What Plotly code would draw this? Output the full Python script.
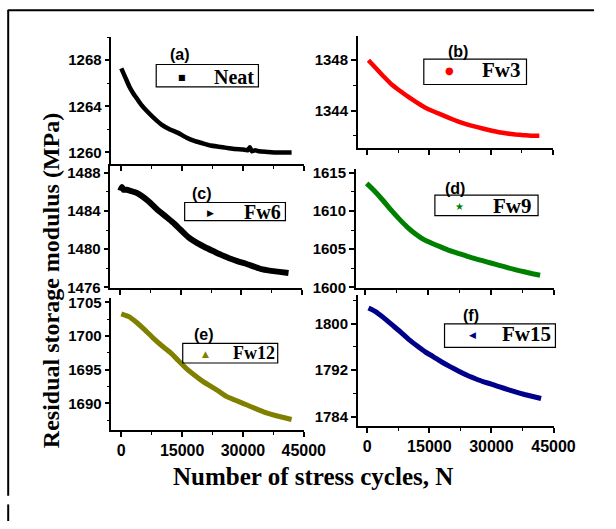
import plotly.graph_objects as go

# ---------------- data ----------------
N_neat = [0, 1000, 2000, 3000, 4000, 5000, 6000, 8000, 10000, 12000, 14000, 16000, 18000, 20000,
          22000, 24000, 26000, 28000, 30000, 31200, 31700, 32200, 33000, 34000, 36000, 38000, 40000, 42000]
E_neat = [1267.3, 1266.5, 1265.7, 1265.1, 1264.6, 1264.1, 1263.7, 1263.0, 1262.4, 1262.0, 1261.7, 1261.3,
          1261.0, 1260.8, 1260.6, 1260.5, 1260.4, 1260.3, 1260.25, 1260.2, 1260.45, 1260.1, 1260.2, 1260.1,
          1260.05, 1260.0, 1260.0, 1260.0]

N_fw3 = [300, 2000, 4000, 6000, 8000, 10000, 12000, 14000, 16000, 18000, 20000, 22000, 24000, 26000,
         28000, 30000, 32000, 34000, 36000, 38000, 40000, 41800]
E_fw3 = [1348.0, 1347.4, 1346.7, 1346.05, 1345.55, 1345.08, 1344.65, 1344.25, 1343.95, 1343.68, 1343.4,
         1343.15, 1342.93, 1342.75, 1342.58, 1342.42, 1342.28, 1342.18, 1342.1, 1342.05, 1342.0, 1342.0]

N_fw6 = [0, 400, 800, 1500, 2500, 4000, 5500, 7000, 9000, 11000, 13000, 15000, 17000, 19000,
         21000, 23000, 25000, 27000, 29000, 31000, 33000, 35000, 37000, 39000, 41700]
E_fw6 = [1486.1, 1486.5, 1486.2, 1486.2, 1486.1, 1485.9, 1485.5, 1485.0, 1484.2, 1483.5, 1482.8,
         1482.0, 1481.2, 1480.65, 1480.2, 1479.8, 1479.4, 1479.05, 1478.75, 1478.5, 1478.2, 1477.9,
         1477.75, 1477.65, 1477.5]

N_fw9 = [300, 2000, 4000, 6000, 8000, 10000, 12000, 14000, 16000, 18000, 20000, 22000, 24000, 26000,
         28000, 30000, 32000, 34000, 36000, 38000, 40000, 41800]
E_fw9 = [1613.6, 1612.7, 1611.5, 1610.2, 1609.0, 1607.9, 1607.0, 1606.25, 1605.75, 1605.3, 1604.85,
         1604.5, 1604.15, 1603.8, 1603.5, 1603.2, 1602.9, 1602.6, 1602.3, 1602.05, 1601.8, 1601.6]

N_fw12 = [0, 2000, 4000, 6000, 8000, 10000, 12000, 14000, 16000, 18000, 20000, 22000, 24000, 26000,
          28000, 30000, 32000, 34000, 36000, 38000, 40000, 42000]
E_fw12 = [1703.3, 1702.85, 1701.9, 1700.8, 1699.6, 1698.55, 1697.6, 1696.4, 1695.2, 1694.2, 1693.3,
          1692.55, 1691.8, 1691.0, 1690.5, 1690.0, 1689.5, 1689.0, 1688.55, 1688.2, 1687.9, 1687.6]

N_fw15 = [300, 2000, 4000, 6000, 8000, 10000, 12000, 14000, 16000, 18000, 20000, 22000, 24000, 26000,
          28000, 30000, 32000, 34000, 36000, 38000, 40000, 42000]
E_fw15 = [1802.7, 1802.1, 1801.0, 1799.8, 1798.6, 1797.3, 1796.2, 1795.15, 1794.3, 1793.4, 1792.6,
          1791.85, 1791.15, 1790.55, 1790.0, 1789.6, 1789.1, 1788.65, 1788.2, 1787.8, 1787.45, 1787.1]

names = ["Neat", "Fw3", "Fw6", "Fw9", "Fw12", "Fw15"]
panel_labels = ["(a)", "(b)", "(c)", "(d)", "(e)", "(f)"]
x_ticks = [0, 15000, 30000, 45000]
x_ticklabels = ["0", "15000", "30000", "45000"]
y_ticks = [[1260, 1264, 1268], [1344, 1348], [1476, 1480, 1484, 1488],
           [1600, 1605, 1610, 1615], [1690, 1695, 1700, 1705], [1784, 1792, 1800]]
x_title = "Number of stress cycles, N"
y_title = "Residual storage modulus (MPa)"

# ---------------- styling / layout ----------------
W, H = 616, 529
def px(x): return x / W
def py(y): return 1 - y / H

series = [(N_neat, E_neat), (N_fw3, E_fw3), (N_fw6, E_fw6),
          (N_fw9, E_fw9), (N_fw12, E_fw12), (N_fw15, E_fw15)]
colors = ["#000000", "#FF0000", "#000000", "#008000", "#808000", "#00008B"]
widths = [4.5, 4.5, 6, 5, 5, 5]
glyphs = ["■", "●", "▶", "★", "▲", "◀"]
glyph_sizes = [8, 10, 9, 10, 9, 9]

# axis boxes in pixels: (x0, x1, ytop, ybottom)
boxes = [(115.5, 315, 33, 163), (371, 573, 32, 147),
         (114.5, 313, 163, 290), (369, 574, 168, 290),
         (115.5, 315, 300, 436), (371, 574, 297, 432)]
yranges = [[1259.0, 1270.0], [1341.0, 1349.9], [1475.95, 1488.9],
           [1599.95, 1615.5], [1686.0, 1705.7], [1782.3, 1805.0]]
ydticks = [4, 4, 4, 5, 5, 8]
xranges = [[-2450, 45000], [-2300, 45000]] * 3

# legend boxes: (x0, x1, ytop, ybottom, glyph x, glyph y, text x, text y, fontsize)
leg = [(162, 268, 61, 84, 189, 74, 220, 75, 20),
       (439.5, 546, 55.5, 81.5, 466, 67.5, 498, 68, 21),
       (191.5, 296, 202.5, 221, 218, 213, 251, 213, 20),
       (451, 558, 195, 216, 477, 206.5, 509, 207, 21),
       (189.5, 288, 347, 367, 213, 358, 240, 357.5, 18),
       (461, 576, 327, 351, 490, 338.5, 519, 338.5, 21)]
lab_pos = [(186.5, 50.5), (475, 47.5), (210, 193), (471.5, 188), (211.5, 338), (488, 318)]

def b(s): return "<b>" + s + "</b>"

fig = go.Figure()
layout = dict(width=W, height=H, margin=dict(l=0, r=0, t=0, b=0),
              paper_bgcolor="white", plot_bgcolor="white", showlegend=False)

annotations = []
shapes = []
for i, ((xs, ys), c) in enumerate(zip(series, colors)):
    k = "" if i == 0 else str(i + 1)
    fig.add_trace(go.Scatter(x=xs, y=ys, mode="lines", name=names[i],
                             line=dict(color=c, width=widths[i], shape="spline", smoothing=0.4),
                             xaxis="x" + k, yaxis="y" + k))
    x0, x1, yt, yb = boxes[i]
    bottom = i >= 4
    layout["xaxis" + k] = dict(
        domain=[px(x0), px(x1)], anchor="y" + k, range=xranges[i],
        tickvals=x_ticks, ticktext=[b(t) for t in x_ticklabels], showticklabels=bottom,
        ticks="outside", ticklen=5, tickwidth=1.5,
        tickcolor="black", showline=True, linecolor="black", linewidth=1.5,
        showgrid=False, zeroline=False,
        tickfont=dict(family="Liberation Sans", size=16, color="black"),
        minor=dict(ticks="outside", ticklen=3, tickwidth=1, tickcolor="black", dtick=7500, tick0=0,
                   showgrid=False))
    d = ydticks[i]
    layout["yaxis" + k] = dict(
        domain=[py(yb), py(yt)], anchor="x" + k, range=yranges[i],
        tickvals=y_ticks[i], ticktext=[b(str(v)) for v in y_ticks[i]],
        ticks="outside", ticklen=5, tickwidth=1.5, tickcolor="black",
        showline=True, linecolor="black", linewidth=1.5, showgrid=False, zeroline=False,
        tickfont=dict(family="Liberation Sans", size=15, color="black"),
        minor=dict(ticks="outside", ticklen=3, tickwidth=1, tickcolor="black", dtick=d / 2, tick0=0,
                   showgrid=False))

    lx0, lx1, ly0, ly1, gx, gy, tx, ty, fs = leg[i]
    shapes.append(dict(type="rect", xref="paper", yref="paper", x0=px(lx0), x1=px(lx1),
                       y0=py(ly1), y1=py(ly0), line=dict(color="black", width=1.2)))
    annotations.append(dict(xref="paper", yref="paper", x=px(gx), y=py(gy), text=glyphs[i],
                            showarrow=False, xanchor="center", yanchor="middle",
                            font=dict(family="DejaVu Sans", size=glyph_sizes[i], color=colors[i])))
    annotations.append(dict(xref="paper", yref="paper", x=px(tx), y=py(ty - 1), text=b(names[i]),
                            showarrow=False, xanchor="left", yanchor="middle",
                            font=dict(family="Liberation Serif", size=fs, color="black")))
    lxp, lyp = lab_pos[i]
    annotations.append(dict(xref="paper", yref="paper", x=px(lxp), y=py(lyp), text=b(panel_labels[i]),
                            showarrow=False, xanchor="center", yanchor="middle",
                            font=dict(family="Liberation Sans", size=16, color="black")))

annotations.append(dict(xref="paper", yref="paper", x=px(324.5), y=py(483), text=b(x_title),
                        showarrow=False, xanchor="center", yanchor="middle",
                        font=dict(family="Liberation Serif", size=25, color="black")))
annotations.append(dict(xref="paper", yref="paper", x=px(53), y=py(283), text=b(y_title), textangle=-90,
                        showarrow=False, xanchor="center", yanchor="middle",
                        font=dict(family="Liberation Serif", size=24, color="black")))

frame = dict(color="black", width=2)
shapes.append(dict(type="line", xref="paper", yref="paper", x0=px(8), x1=1, y0=py(5.5), y1=py(5.5), line=frame))
shapes.append(dict(type="line", xref="paper", yref="paper", x0=px(8.5), x1=px(8.5), y0=py(5), y1=py(503), line=frame))
shapes.append(dict(type="line", xref="paper", yref="paper", x0=px(8.5), x1=px(8.5), y0=py(512), y1=0, line=frame))

layout["annotations"] = annotations
layout["shapes"] = shapes
fig.update_layout(**layout)
fig.write_html("out.html")
